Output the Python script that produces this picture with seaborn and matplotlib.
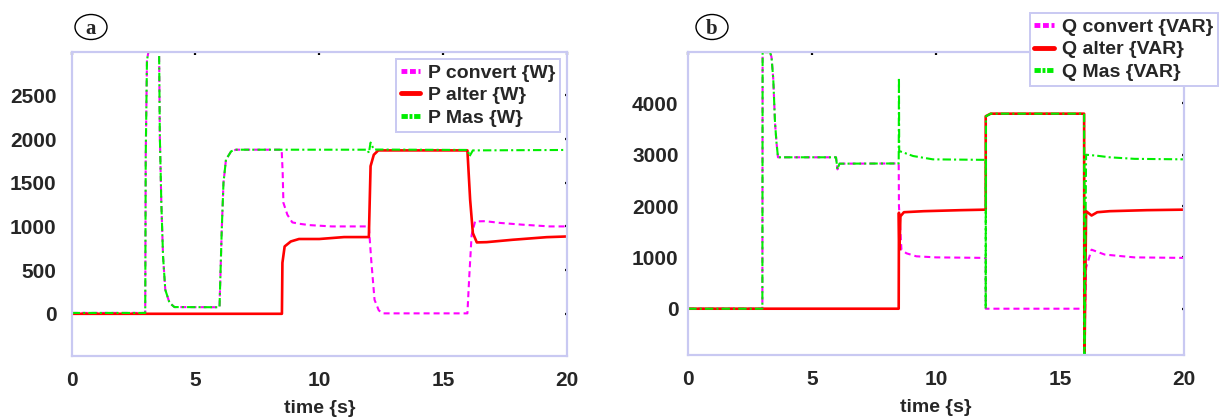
"""
Converter / alternator / grid power exchange during the load sequence.
(a) active power, (b) reactive power.
"""
import numpy as np
import pandas as pd
import matplotlib.pyplot as plt
from matplotlib.patches import Ellipse
import seaborn as sns

sns.set_theme(style="white", context="notebook")
plt.rcParams["font.family"] = ["Liberation Sans", "DejaVu Sans"]
plt.rcParams["font.weight"] = "bold"

# %% data --------------------------------------------------------------------
# (a) active power [W]
T_CONV_A = [0, 2.97, 2.99, 3.04, 3.1, 3.45, 3.53, 3.56, 3.62, 3.69, 3.78, 3.95,
            4.15, 5.97, 5.99, 6.06, 6.13, 6.23, 6.44, 6.64, 8.48, 8.52, 8.55,
            8.71, 8.91, 9.2, 9.6, 10.5, 12.0, 12.1, 12.23, 12.4, 12.55, 15.98,
            16.05, 16.15, 16.29, 16.7, 17.3, 18.2, 19.3, 20]
P_CONV_A = [10, 10, 1800, 2900, 3000, 3000, 3000, 2030, 1270, 656, 275, 126,
            77, 75, 275, 962, 1500, 1764, 1860, 1878, 1878, 1615, 1270,
            1134, 1046, 1030, 1015, 1000, 1000, 600, 160, 40, 5, 5,
            400, 900, 1057, 1060, 1040, 1020, 1000, 1000]

T_ALT_A = [0, 8.49, 8.51, 8.6, 8.85, 9.18, 10.0, 11.0, 12.0, 12.07, 12.2, 12.38,
           15.98, 16.09, 16.2, 16.36, 16.76, 17.8, 19.18, 20]
P_ALT_A = [0, 0, 584, 771, 828, 856, 856, 878, 878, 1690, 1820, 1870,
           1870, 1306, 924, 817, 820, 847, 877, 885]

T_MAS_A = [0, 2.97, 2.99, 3.04, 3.1, 3.45, 3.53, 3.56, 3.62, 3.69, 3.78, 3.95,
           4.15, 5.97, 5.99, 6.06, 6.13, 6.23, 6.44, 6.64, 11.95, 12.0, 12.07,
           12.2, 16.0, 16.06, 16.2, 20]
P_MAS_A = [10, 10, 1800, 2900, 3000, 3000, 3000, 2030, 1270, 656, 275, 126,
           77, 75, 275, 962, 1500, 1764, 1860, 1878, 1878, 1840, 1960,
           1880, 1875, 1800, 1870, 1875]

# (b) reactive power [VAR]
T_CONV_B = [0, 2.99, 3.0, 3.3, 3.36, 3.43, 3.5, 3.56, 3.62, 5.96, 6.02, 6.1,
            8.49, 8.5, 8.6, 8.8, 9.2, 10.0, 12.0, 12.0, 15.97, 16.0, 16.05,
            16.27, 16.8, 18.0, 20]
Q_CONV_B = [0, 0, 5000, 5000, 4900, 4473, 3627, 3236, 2950, 2950, 2715, 2826,
            2830, 2000, 1152, 1080, 1021, 1000, 990, 0, 0, -300, 800,
            1150, 1055, 1000, 990]

T_ALT_B = [0, 8.49, 8.5, 8.52, 8.56, 8.7, 9.5, 11.0, 12.0, 12.0, 12.2, 15.97,
           15.98, 16.05, 16.27, 16.5, 17.0, 18.5, 20]
Q_ALT_B = [0, 0, 1870, 1150, 1800, 1880, 1900, 1920, 1930, 3750, 3800, 3800,
           -1200, 1900, 1816, 1880, 1900, 1920, 1930]

T_MAS_B = [0, 2.99, 3.0, 3.3, 3.36, 3.43, 3.5, 3.56, 3.62, 5.96, 6.02, 6.1,
           8.49, 8.5, 8.51, 8.7, 9.07, 9.87, 12.0, 12.0, 12.01, 12.2, 15.97,
           15.98, 16.05, 16.5, 17.0, 18.0, 20]
Q_MAS_B = [0, 0, 5000, 5000, 4900, 4473, 3627, 3236, 2950, 2950, 2715, 2826,
           2830, 4505, 3072, 3040, 2975, 2910, 2900, 0, 3750, 3800, 3800,
           -1200, 3000, 2980, 2950, 2920, 2910]

X_TICKS = [0, 5, 10, 15, 20]
Y_TICKS_A = [0, 500, 1000, 1500, 2000, 2500]
Y_TICKS_B = [0, 1000, 2000, 3000, 4000]

LABELS_A = ["P convert {W}", "P alter {W}", "P Mas {W}"]
LABELS_B = ["Q convert {VAR}", "Q alter {VAR}", "Q Mas {VAR}"]

# %% styling --------------------------------------------------------------
FRAME = "#c9c9f2"
C_CONV, C_ALT, C_MAS = "#ff00ff", "#ff0000", "#00ee00"
LS_CONV = (0, (2.9, 1.9))
LS_MAS = (0, (4, 1.5, 1, 1.5))
LEG_LS = [(0, (1.2, 0.55)), "-", (0, (1.3, 0.35, 0.6, 0.35))]

fig = plt.figure(figsize=(12.19, 4.2), dpi=100, facecolor="white")
ax_a = fig.add_axes([0.0588, 0.153, 0.4063, 0.724])
ax_b = fig.add_axes([0.5646, 0.155, 0.4067, 0.721])


def draw(ax, series, labels):
    for (t, v, color, ls, lw), lab in zip(series, labels):
        df = pd.DataFrame({"t": t, "v": v})
        sns.lineplot(data=df, x="t", y="v", ax=ax, sort=False, estimator=None,
                     color=color, linestyle=ls, linewidth=lw, label=lab)
    ax.set_xlim(0, 20)
    ax.set_xticks(X_TICKS)
    ax.set_xlabel("time {s}", fontsize=14, fontweight="bold", labelpad=7)
    ax.set_ylabel("")
    for sp in ax.spines.values():
        sp.set_color(FRAME)
        sp.set_linewidth(1.6)
    ax.tick_params(direction="in", length=1.8, width=1.6, color="black",
                   top=True, right=True, labelsize=15)
    ax.tick_params(axis="x", pad=11)


draw(ax_a, [(T_CONV_A, P_CONV_A, C_CONV, LS_CONV, 1.5),
            (T_ALT_A, P_ALT_A, C_ALT, "-", 1.9),
            (T_MAS_A, P_MAS_A, C_MAS, LS_MAS, 1.5)], LABELS_A)
ax_a.set_ylim(-480, 3000)
ax_a.set_yticks(Y_TICKS_A)
ax_a.tick_params(axis="y", pad=11)

draw(ax_b, [(T_CONV_B, Q_CONV_B, C_CONV, LS_CONV, 1.5),
            (T_ALT_B, Q_ALT_B, C_ALT, "-", 1.9),
            (T_MAS_B, Q_MAS_B, C_MAS, LS_MAS, 1.5)], LABELS_B)
ax_b.set_ylim(-900, 5000)
ax_b.set_yticks(Y_TICKS_B)
ax_b.tick_params(axis="y", pad=7)

leg_kw = dict(fontsize=14, frameon=True, fancybox=False, framealpha=1,
              edgecolor=FRAME, handlelength=1.0, handletextpad=0.4,
              labelspacing=0.25, borderpad=0.25, borderaxespad=0)
leg_a = ax_a.legend(loc="upper right", bbox_to_anchor=(0.986, 0.975), **leg_kw)
leg_b = ax_b.legend(loc="upper right", bbox_to_anchor=(0.999, 0.968),
                    bbox_transform=fig.transFigure, **leg_kw)
for leg in (leg_a, leg_b):
    leg.get_frame().set_linewidth(1.4)
    for h, ls in zip(leg.get_lines(), LEG_LS):
        h.set_linewidth(3.5)
        h.set_linestyle(ls)
leg_b.set_zorder(10)

# panel tags: ellipse + serif letter
for x, y, tag in [(91 / 1219, 1 - 27 / 420, "a"), (712 / 1219, 1 - 27 / 420, "b")]:
    fig.patches.append(Ellipse((x, y), 32 / 1219, 25 / 420, transform=fig.transFigure,
                               fc="white", ec="black", lw=1.0))
    fig.text(x, y - 0.004, tag, ha="center", va="center", fontsize=15,
             family=["Liberation Serif", "DejaVu Serif"], fontweight="bold")

fig.savefig("out.png", dpi=100, facecolor="white")
